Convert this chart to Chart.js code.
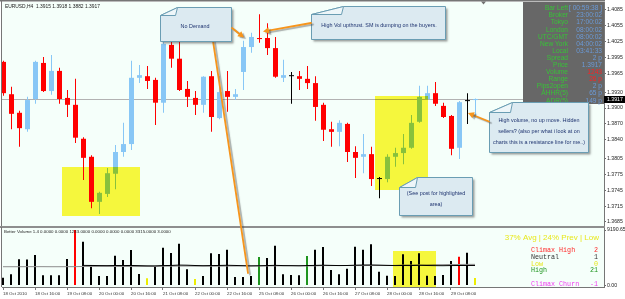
<!DOCTYPE html>
<html>
<head>
<meta charset="utf-8">
<title>EURUSD H4 - Better Volume</title>
<script src="https://cdn.jsdelivr.net/npm/chart.js@4.4.1/dist/chart.umd.min.js"></script>
<style>
  html, body { margin: 0; padding: 0; background: #ffffff; }
  #wrap { position: relative; width: 625px; height: 299px; overflow: hidden; background: #ffffff; }
  #wrap canvas { position: absolute; left: 0; display: block; }
  #priceChart { top: 0; }
  #volumeChart { top: 227px; }
  #notes { top: 0; pointer-events: none; }
</style>
</head>
<body>
<div id="wrap">
  <canvas id="priceChart" width="625" height="227"></canvas>
  <canvas id="volumeChart" width="625" height="72"></canvas>
  <canvas id="notes" width="625" height="299"></canvas>
</div>
<script>
(function () {
  'use strict';

  // EURUSD H4, one entry per bar from 18 Oct 2010 00:00
  const opens  = [1.3987, 1.3926, 1.3891, 1.3860, 1.3917, 1.3985, 1.3932, 1.3970, 1.3919, 1.3906,
                  1.3842, 1.3808, 1.3723, 1.3738, 1.3776, 1.3817, 1.3832, 1.3957, 1.3960, 1.3953,
                  1.3910, 1.4019, 1.3993, 1.3936, 1.3919, 1.3906, 1.3960, 1.3881, 1.3932, 1.3921,
                  1.3968, 1.4015, 1.4032, 1.4032, 1.4013, 1.3957, 1.3960, 1.3960, 1.3955, 1.3947,
                  1.3906, 1.3860, 1.3855, 1.3870, 1.3817, 1.3808, 1.3813, 1.3766, 1.3766, 1.3808,
                  1.3815, 1.3825, 1.3874, 1.3917, 1.3928, 1.3904, 1.3885, 1.3825, 1.3913, 1.3915];
  const highs  = [1.3989, 1.3940, 1.3895, 1.3921, 1.3989, 1.3996, 1.4000, 1.3976, 1.3934, 1.3955,
                  1.3845, 1.3811, 1.3742, 1.3787, 1.3830, 1.3872, 1.3989, 1.3981, 1.3979, 1.3957,
                  1.4025, 1.4027, 1.4025, 1.3951, 1.3932, 1.3960, 1.3970, 1.3960, 1.3970, 1.3936,
                  1.4027, 1.4042, 1.4077, 1.4060, 1.4034, 1.3991, 1.3968, 1.3970, 1.3979, 1.3960,
                  1.3910, 1.3874, 1.3877, 1.3872, 1.3828, 1.3851, 1.3827, 1.3770, 1.3813, 1.3825,
                  1.3851, 1.3887, 1.3942, 1.3942, 1.3949, 1.3910, 1.3887, 1.3913, 1.3928, 1.3918];
  const lows   = [1.3923, 1.3860, 1.3827, 1.3855, 1.3908, 1.3930, 1.3925, 1.3908, 1.3883, 1.3834,
                  1.3764, 1.3711, 1.3700, 1.3732, 1.3747, 1.3808, 1.3821, 1.3947, 1.3936, 1.3868,
                  1.3891, 1.3976, 1.3932, 1.3902, 1.3887, 1.3891, 1.3855, 1.3879, 1.3893, 1.3915,
                  1.3934, 1.4004, 1.4023, 1.4000, 1.3957, 1.3949, 1.3908, 1.3934, 1.3936, 1.3876,
                  1.3838, 1.3827, 1.3828, 1.3798, 1.3768, 1.3777, 1.3753, 1.3730, 1.3760, 1.3789,
                  1.3794, 1.3823, 1.3872, 1.3915, 1.3904, 1.3881, 1.3811, 1.3804, 1.3870, 1.3882];
  const closes = [1.3928, 1.3889, 1.3862, 1.3915, 1.3987, 1.3932, 1.3970, 1.3917, 1.3906, 1.3844,
                  1.3806, 1.3723, 1.3740, 1.3777, 1.3817, 1.3832, 1.3957, 1.3962, 1.3951, 1.3910,
                  1.4021, 1.3993, 1.3934, 1.3921, 1.3906, 1.3959, 1.3883, 1.3930, 1.3921, 1.3926,
                  1.4015, 1.4034, 1.4030, 1.4013, 1.3959, 1.3962, 1.3960, 1.3955, 1.3947, 1.3902,
                  1.3859, 1.3855, 1.3872, 1.3817, 1.3806, 1.3813, 1.3766, 1.3766, 1.3808, 1.3815,
                  1.3825, 1.3872, 1.3921, 1.3928, 1.3908, 1.3883, 1.3823, 1.3911, 1.3913, 1.3917];

  // tick volume per bar, plus the two average lines of the Better Volume window
  const volumes = [1290, 1850, 4340, 4320, 5050, 1700, 1680, 1690, 4390, 9190,
                   7250, 3400, 1570, 1580, 4930, 4220, 5880, 1900, 1190, 3110,
                   6260, 5380, 6920, 2680, 1080, 1570, 5330, 5220, 5930, 1410,
                   1400, 1570, 4720, 4550, 6590, 1860, 1740, 1690, 4880, 5930,
                   6380, 2570, 1850, 2780, 6430, 5930, 6820, 2290, 1620, 1570,
                   5170, 4060, 5330, 1620, 1570, 1740, 4060, 4770, 5430, 1243];
  const volAvg = [null, null, null, null, null, null, null, null, null, null,
                  3330, 3320, 3300, 3290, 3310, 3300, 3320, 3290, 3260, 3250,
                  3300, 3320, 3380, 3360, 3310, 3280, 3300, 3320, 3350, 3320,
                  3280, 3250, 3270, 3300, 3340, 3300, 3290, 3270, 3300, 3330,
                  3360, 3330, 3300, 3310, 3360, 3390, 3400, 3370, 3330, 3300,
                  3310, 3300, 3340, 3310, 3290, 3280, 3300, 3310, 3315, 3315];
  const volPrev = [3110, 3110, 3110, 3120, 3120, 3120, 3110, 3110, 3120, 3120,
                   3150, 3150, 3160, 3160, 3150, 3150, 3140, 3140, 3150, 3150,
                   3200, 3200, 3220, 3220, 3210, 3210, 3200, 3200, 3220, 3220,
                   3250, 3250, 3240, 3240, 3250, 3250, 3260, 3260, 3250, 3250,
                   3300, 3300, 3310, 3310, 3300, 3300, 3320, 3320, 3330, 3330,
                   3400, 3400, 3420, 3420, 3450, 3450, 3480, 3480, 3500, 3500];
  const climaxHighBars = [9, 57];
  const lowVolumeBars = [18, 24, 59];
  const highChurnBars = [32, 38];

  const priceTicks = [1.4085, 1.4055, 1.4025, 1.3995, 1.3965, 1.3930, 1.3900,
                      1.3870, 1.3840, 1.3805, 1.3775, 1.3745, 1.3715, 1.3685];
  const volumeTicks = [9190.65, 0];
  const dateTickBars = [0, 4, 8, 12, 16, 20, 24, 28, 32, 36, 40, 44, 48, 52, 56];
  const dateLabels = ['18 Oct 2010', '18 Oct 16:00', '19 Oct 08:00', '20 Oct 00:00', '20 Oct 16:00',
                      '21 Oct 08:00', '22 Oct 00:00', '22 Oct 16:00', '25 Oct 08:00', '26 Oct 00:00',
                      '26 Oct 16:00', '27 Oct 08:00', '28 Oct 00:00', '28 Oct 16:00', '29 Oct 08:00'];

  const infoRows = [
    ['Bar Left', '[ 00:59:38 ]'], ['Broker', '23:00:02'], ['Tokyo', '17:00:02'], ['London', '08:00:02'],
    ['UTC/GMT', '08:00:02'], ['New York', '04:00:02'], ['Local', '03:41:33'], ['Spread', '2 p'],
    ['Price', '1.3917'], ['Volume', '1243', '#ff2020'], ['Range', '26 p', '#ff2020'], ['Pips2open', '2 p'],
    ['AHHR(5)', '65 p'], ['ADR(5)', '149 p'],
  ];
  const legendRows = [
    ['Climax High', '2', '#ff2a2a'], ['Neutral', '1', '#333333'], ['Low', '0', '#e6e61c'],
    ['High', '21', '#1f951f'], ['Climax Churn', '-1', '#f03cf0'],
  ];

  const SANS = '"Liberation Sans", Arial, sans-serif';
  const MONO = '"Liberation Mono", "Courier New", monospace';
  const BULL = '#88c7f6';
  const BEAR = '#ff0000';
  const DOJI = '#000000';
  const PLOT_BG = '#f5fffa';
  const FRAME = '#767676';
  const ORANGE = '#f6951c';

  Chart.defaults.font.family = SANS;
  Chart.defaults.animation = false;

  const lastPrice = closes[closes.length - 1];
  const candleColors = opens.map((o, i) => (closes[i] > o ? BULL : (closes[i] < o ? BEAR : DOJI)));
  const volumeColors = volumes.map((v, i) => {
    if (climaxHighBars.includes(i)) return '#ff0000';
    if (lowVolumeBars.includes(i)) return '#eded00';
    if (highChurnBars.includes(i)) return '#1f951f';
    return '#000000';
  });

  const noPad = (scale) => {
    scale.paddingTop = 0;
    scale.paddingBottom = 0;
    scale.paddingLeft = 0;
    scale.paddingRight = 0;
  };

  const fillPlot = (chart) => {
    const { ctx, chartArea: a } = chart;
    ctx.save();
    ctx.fillStyle = PLOT_BG;
    ctx.fillRect(a.left, a.top, a.right - a.left, a.bottom - a.top);
    ctx.restore();
  };

  const priceDecor = {
    id: 'priceDecor',
    beforeDraw: fillPlot,
    beforeDatasetsDraw(chart) {
      const { ctx, chartArea: a, scales: { y } } = chart;
      const py = Math.round(y.getPixelForValue(lastPrice)) + 0.5;
      ctx.save();
      ctx.strokeStyle = '#b2b2b2';
      ctx.lineWidth = 1;
      ctx.beginPath();
      ctx.moveTo(a.left, py);
      ctx.lineTo(a.right, py);
      ctx.stroke();
      ctx.restore();
    },
    afterDatasetsDraw(chart) {
      // highlighted areas, multiplied over the candles like in the terminal
      const { ctx } = chart;
      ctx.save();
      ctx.globalCompositeOperation = 'multiply';
      ctx.fillStyle = 'rgb(255,247,62)';
      ctx.fillRect(62, 167, 78, 49);
      ctx.fillRect(375, 96, 53, 94);
      ctx.restore();
    },
    afterDraw(chart) {
      const { ctx, chartArea: a, scales: { y } } = chart;
      ctx.save();

      // frame
      ctx.fillStyle = FRAME;
      ctx.fillRect(0, 0, a.right + 1, 1.5);
      ctx.fillRect(1, 0, 1, a.bottom);
      ctx.fillStyle = '#8e8e8e';
      ctx.fillRect(0, a.bottom, a.right + 1, 1);

      // shift marker
      ctx.fillStyle = '#707070';
      ctx.beginPath();
      ctx.moveTo(481, 1.5);
      ctx.lineTo(486, 1.5);
      ctx.lineTo(483.5, 4.5);
      ctx.closePath();
      ctx.fill();

      // symbol header
      ctx.fillStyle = '#1a1a1a';
      ctx.font = `4.9px ${SANS}`;
      ctx.textAlign = 'left';
      ctx.textBaseline = 'middle';
      ctx.fillText('EURUSD,H4  1.3915 1.3918 1.3882 1.3917', 5, 6.5);

      // current price tag on the axis
      const py = Math.round(y.getPixelForValue(lastPrice)) + 0.5;
      ctx.fillStyle = '#000000';
      ctx.fillRect(a.right, py - 3.5, 625 - a.right, 7);
      ctx.fillStyle = '#ffffff';
      ctx.font = `5.2px ${SANS}`;
      ctx.fillText(lastPrice.toFixed(4), a.right + 3, py);

      // info panel
      ctx.fillStyle = '#676767';
      ctx.fillRect(523, 2, 81, 102);
      ctx.font = `6.6px ${SANS}`;
      ctx.textAlign = 'right';
      infoRows.forEach((row, k) => {
        const ry = 8.4 + k * 7.1;
        ctx.fillStyle = '#38c238';
        ctx.fillText(row[0], 568, ry);
        ctx.fillStyle = row[2] || '#6a9ad8';
        ctx.fillText(row[1], 602, ry);
      });
      ctx.restore();
    },
  };

  const volumeDecor = {
    id: 'volumeDecor',
    beforeDraw: fillPlot,
    afterDatasetsDraw(chart) {
      const { ctx } = chart;
      ctx.save();
      ctx.globalCompositeOperation = 'multiply';
      ctx.fillStyle = 'rgb(255,247,62)';
      ctx.fillRect(393, 24, 43, 36);
      ctx.restore();
    },
    afterDraw(chart) {
      const { ctx, chartArea: a } = chart;
      ctx.save();
      ctx.fillStyle = '#8e8e8e';
      ctx.fillRect(0, 0, a.right + 1, 1);
      ctx.fillStyle = FRAME;
      ctx.fillRect(1, 0, 1, a.bottom);

      ctx.textBaseline = 'middle';
      ctx.textAlign = 'left';
      ctx.fillStyle = '#222222';
      ctx.font = `4.4px ${SANS}`;
      ctx.fillText('Better Volume 1.4 0.0000 0.0000 1243.0000 0.0000 0.0000 0.0000 3315.0000 3.0000', 4, 4.5);

      ctx.textAlign = 'right';
      ctx.fillStyle = '#e8e81e';
      ctx.font = `8px ${SANS}`;
      ctx.fillText('37% Avg | 24% Prev | Low', 599, 10.5);

      ctx.font = `6.7px ${MONO}`;
      const rowsY = [23, 30.3, 37, 43.7, 57];
      legendRows.forEach((row, k) => {
        ctx.fillStyle = row[2];
        ctx.textAlign = 'left';
        ctx.fillText(row[0], 531, rowsY[k]);
        ctx.textAlign = 'right';
        ctx.fillText(row[1], 598, rowsY[k]);
      });
      ctx.restore();
    },
  };

  new Chart(document.getElementById('priceChart'), {
    type: 'bar',
    data: {
      datasets: [
        {
          label: 'Body',
          data: opens.map((o, i) => ({ x: i, y: [o, closes[i]] })),
          backgroundColor: candleColors,
          barThickness: 5,
          minBarLength: 1,
          borderWidth: 0,
          inflateAmount: 0,
          grouped: false,
          order: 0,
        },
        {
          label: 'Wick',
          data: lows.map((l, i) => ({ x: i, y: [l, highs[i]] })),
          backgroundColor: candleColors,
          barThickness: 1,
          borderWidth: 0,
          inflateAmount: 0,
          grouped: false,
          order: 1,
        },
      ],
    },
    options: {
      responsive: false,
      maintainAspectRatio: false,
      events: [],
      layout: { padding: { left: 2, top: 2, right: 0, bottom: 1 } },
      plugins: { legend: { display: false }, tooltip: { enabled: false } },
      scales: {
        x: {
          type: 'linear',
          min: -0.1875,
          max: 75.0625,
          offset: false,
          display: false,
          afterFit: noPad,
        },
        y: {
          position: 'right',
          min: 1.367745,
          max: 1.409994,
          grid: { drawOnChartArea: false, drawTicks: true, tickLength: 2, color: '#6a6a6a' },
          border: { display: true, color: FRAME },
          ticks: {
            autoSkip: false,
            padding: 1,
            color: '#222222',
            font: { size: 5.2 },
            callback: (value) => Number(value).toFixed(4),
          },
          afterBuildTicks: (scale) => {
            scale.ticks = priceTicks.map((value) => ({ value }));
          },
          afterFit: (scale) => {
            scale.width = 21;
            noPad(scale);
          },
        },
      },
    },
    plugins: [priceDecor],
  });

  new Chart(document.getElementById('volumeChart'), {
    type: 'bar',
    data: {
      datasets: [
        {
          type: 'line',
          label: 'Previous',
          data: volPrev.map((v, i) => ({ x: i, y: v })),
          borderColor: '#8c8c8c',
          borderWidth: 1,
          pointRadius: 0,
          order: 1,
        },
        {
          type: 'line',
          label: 'Average',
          data: volAvg.map((v, i) => ({ x: i, y: v })).filter((p) => p.y !== null),
          borderColor: '#000000',
          borderWidth: 1,
          pointRadius: 0,
          order: 0,
        },
        {
          label: 'Volume',
          data: volumes.map((v, i) => ({ x: i, y: v })),
          backgroundColor: volumeColors,
          barThickness: 2,
          borderWidth: 0,
          inflateAmount: 0,
          grouped: false,
          order: 2,
        },
      ],
    },
    options: {
      responsive: false,
      maintainAspectRatio: false,
      events: [],
      layout: { padding: { left: 2, top: 1, right: 0, bottom: 0 } },
      plugins: { legend: { display: false }, tooltip: { enabled: false } },
      scales: {
        x: {
          type: 'linear',
          min: -0.125,
          max: 75.125,
          offset: false,
          grid: { drawOnChartArea: false, drawTicks: true, tickLength: 3, color: '#7a7a7a', offset: false },
          border: { display: true, color: FRAME },
          ticks: {
            autoSkip: false,
            maxRotation: 0,
            minRotation: 0,
            align: 'start',
            padding: 1,
            color: '#333333',
            font: { size: 4.4 },
            callback: (value, index) => dateLabels[index],
          },
          afterBuildTicks: (scale) => {
            scale.ticks = dateTickBars.map((value) => ({ value }));
          },
          afterFit: (scale) => {
            scale.height = 12;
            noPad(scale);
          },
        },
        y: {
          position: 'right',
          min: -248,
          max: 9522,
          grid: { drawOnChartArea: false, drawTicks: true, tickLength: 2, color: '#6a6a6a' },
          border: { display: true, color: FRAME },
          ticks: {
            autoSkip: false,
            padding: 1,
            color: '#222222',
            font: { size: 5.2 },
            callback: (value) => Number(value).toFixed(2),
          },
          afterBuildTicks: (scale) => {
            scale.ticks = volumeTicks.map((value) => ({ value }));
          },
          afterFit: (scale) => {
            scale.width = 21;
            noPad(scale);
          },
        },
      },
    },
    plugins: [volumeDecor],
  });

  // forum annotations on top of both windows
  const notes = document.getElementById('notes').getContext('2d');

  const arrowHead = (ctx, x1, y1, x2, y2, len, half) => {
    const a = Math.atan2(y2 - y1, x2 - x1);
    const bx = x2 - len * Math.cos(a);
    const by = y2 - len * Math.sin(a);
    ctx.beginPath();
    ctx.moveTo(x2, y2);
    ctx.lineTo(bx + half * Math.sin(a), by - half * Math.cos(a));
    ctx.lineTo(bx - half * Math.sin(a), by + half * Math.cos(a));
    ctx.closePath();
    ctx.fill();
  };

  const drawArrow = (ctx, x1, y1, x2, y2, withHead) => {
    ctx.save();
    ctx.strokeStyle = ORANGE;
    ctx.fillStyle = ORANGE;
    ctx.lineWidth = 1.8;
    ctx.lineCap = 'round';
    ctx.shadowColor = 'rgba(70,70,70,0.45)';
    ctx.shadowOffsetX = 2;
    ctx.shadowOffsetY = 1.5;
    ctx.shadowBlur = 1;
    const a = Math.atan2(y2 - y1, x2 - x1);
    const cut = withHead ? 4 : 0;
    ctx.beginPath();
    ctx.moveTo(x1, y1);
    ctx.lineTo(x2 - cut * Math.cos(a), y2 - cut * Math.sin(a));
    ctx.stroke();
    if (withHead) arrowHead(ctx, x1, y1, x2, y2, 6, 3.2);
    ctx.restore();
  };

  const drawCallout = (ctx, c) => {
    const { x, y, w, h, fw, fh } = c;
    ctx.save();
    ctx.beginPath();
    ctx.moveTo(x, y + fh);
    ctx.lineTo(x + fw, y);
    ctx.lineTo(x + w, y);
    ctx.lineTo(x + w, y + h);
    ctx.lineTo(x, y + h);
    ctx.closePath();
    ctx.shadowColor = 'rgba(60,60,60,0.5)';
    ctx.shadowOffsetX = 2;
    ctx.shadowOffsetY = 2;
    ctx.shadowBlur = 2;
    ctx.fillStyle = '#dceaf1';
    ctx.fill();
    ctx.shadowColor = 'transparent';
    ctx.strokeStyle = '#6a9db3';
    ctx.lineWidth = 1;
    ctx.stroke();

    ctx.beginPath();
    ctx.moveTo(x, y + fh);
    ctx.lineTo(x + fw, y);
    ctx.lineTo(x + fw - 2, y + fh);
    ctx.closePath();
    ctx.fillStyle = '#eef6f9';
    ctx.fill();
    ctx.stroke();

    ctx.fillStyle = '#1f3470';
    ctx.font = `5.4px ${SANS}`;
    ctx.textAlign = 'center';
    ctx.textBaseline = 'middle';
    c.lines.forEach((t, k) => ctx.fillText(t, c.tx, c.ty + k * (c.lh || 0)));
    ctx.restore();
  };

  drawArrow(notes, 213, 41, 248, 273, false);

  drawCallout(notes, { x: 160.5, y: 7.5, w: 71, h: 34, fw: 17, fh: 8, lines: ['No Demand'], tx: 195, ty: 26.5 });
  drawCallout(notes, { x: 311.5, y: 6.5, w: 134, h: 33, fw: 32, fh: 8,
    lines: ['High Vol upthrust. SM is dumping on the buyers.'], tx: 379, ty: 25.5 });
  drawCallout(notes, { x: 489.5, y: 102.5, w: 99, h: 50, fw: 23, fh: 10,
    lines: ['High volume, no up move. Hidden', 'sellers? (also per what i look at on', 'charts this is a resistance line for me..)'],
    tx: 539, ty: 121, lh: 10.7 });
  drawCallout(notes, { x: 399.5, y: 177.5, w: 73, h: 38, fw: 18, fh: 10,
    lines: ['(See post for highlighted', 'area)'], tx: 436, ty: 194, lh: 11 });

  drawArrow(notes, 232, 28, 244, 37.5, true);
  drawArrow(notes, 311, 23, 263, 31.5, true);
  drawArrow(notes, 489, 121.5, 468, 113, true);
})();
</script>
</body>
</html>
